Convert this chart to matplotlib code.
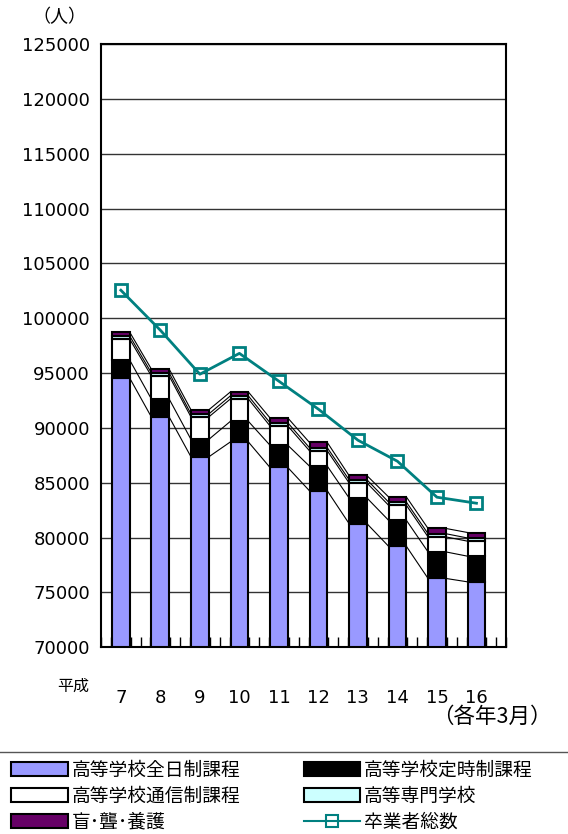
import matplotlib
matplotlib.use("Agg")
import numpy as np
from matplotlib import pyplot as plt
from matplotlib.lines import Line2D
from matplotlib.patches import Patch

plt.rcParams["font.family"] = ["DejaVu Sans", "Noto Sans CJK JP"]

years = ["7", "8", "9", "10", "11", "12", "13", "14", "15", "16"]
zennichi = [94540, 90980, 87360, 88730, 86390, 84260, 81280, 79210, 76270, 75960]
teiji = [1640, 1640, 1590, 1880, 2030, 2250, 2340, 2370, 2420, 2340]
tsushin = [1910, 2100, 2050, 2040, 1760, 1400, 1370, 1370, 1370, 1370]
senmon = [290, 280, 270, 280, 290, 280, 290, 290, 290, 290]
mou = [350, 350, 380, 360, 440, 480, 380, 470, 480, 500]
total = [102560, 98910, 94900, 96800, 94260, 91710, 88880, 86960, 83680, 83130]

series = [zennichi, teiji, tsushin, senmon, mou]
names = ["高等学校全日制課程", "高等学校定時制課程", "高等学校通信制課程", "高等専門学校", "盲･聾･養護"]
colors = ["#9999FF", "#000000", "#FFFFFF", "#CCFFFF", "#660066"]
LINE_COLOR = "#008080"
JP = ["Noto Sans CJK JP", "DejaVu Sans"]


def main():
    fig = plt.figure(figsize=(5.68, 8.34), dpi=100)
    ax = fig.add_axes([0.178, 0.224, 0.713, 0.723])

    x = np.arange(len(years))
    w = 0.45
    bottom = np.zeros(len(years))
    tops = []
    for vals, color in zip(series, colors):
        ax.bar(x, vals, w, bottom=bottom, color=color, edgecolor="black", linewidth=1.5, zorder=3)
        bottom = bottom + np.array(vals)
        tops.append(bottom.copy())

    # series lines between bars
    for t in tops:
        for i in range(len(x) - 1):
            ax.plot([x[i] + w / 2, x[i + 1] - w / 2], [t[i], t[i + 1]], color="black", linewidth=0.8, zorder=2)

    ax.plot(x, total, color=LINE_COLOR, linewidth=2, marker="s", markersize=9,
            markerfacecolor="none", markeredgecolor=LINE_COLOR, markeredgewidth=2, zorder=4)

    ax.set_xlim(-0.5, len(years) - 0.5)
    ax.set_ylim(70000, 125000)
    ax.set_yticks(range(70000, 125001, 5000))
    ax.set_yticklabels([str(v) for v in range(70000, 125001, 5000)], fontsize=13)
    ax.set_xticks(x)
    ax.set_xticklabels(years, fontsize=13)
    ax.set_xticks(np.arange(-0.5, len(years), 0.25), minor=True)
    ax.tick_params(axis="x", which="major", length=0, pad=30)
    ax.tick_params(axis="x", which="minor", direction="in", length=7, width=1, color="black")
    ax.tick_params(axis="y", length=0, pad=8)
    ax.grid(axis="y", color="#333333", linewidth=1, zorder=0)
    for s in ax.spines.values():
        s.set_linewidth(1.5)
        s.set_color("black")
        s.set_zorder(5)

    fig.text(0.105, 0.979, "（人）", fontsize=13, ha="center", va="center", family=JP)
    fig.text(0.129, 0.177, "平成", fontsize=11.5, ha="center", va="center", family=JP)
    fig.text(0.866, 0.140, "（各年3月）", fontsize=15.5, ha="center", va="center", family=JP)

    # legend separator line
    fig.add_artist(Line2D([0, 1], [0.098, 0.098], color="#555555", linewidth=1, transform=fig.transFigure))

    handles = [Patch(facecolor=c, edgecolor="black", linewidth=1.5) for c in colors]
    handles.append(Line2D([], [], color=LINE_COLOR, linewidth=1.5, marker="s", markersize=8,
                          markerfacecolor="none", markeredgecolor=LINE_COLOR, markeredgewidth=1.5))
    labels = names + ["卒業者総数"]
    order = [0, 2, 4, 1, 3, 5]
    fig.legend([handles[i] for i in order], [labels[i] for i in order], ncol=2,
               loc="upper left", bbox_to_anchor=(0.02, 0.089), frameon=False,
               prop={"family": JP, "size": 13.5}, handlelength=3, handleheight=0.75,
               handletextpad=0.2, columnspacing=3.4, labelspacing=0.27,
               borderaxespad=0, borderpad=0)

    fig.savefig("out.png", dpi=100)


if __name__ == "__main__":
    main()
